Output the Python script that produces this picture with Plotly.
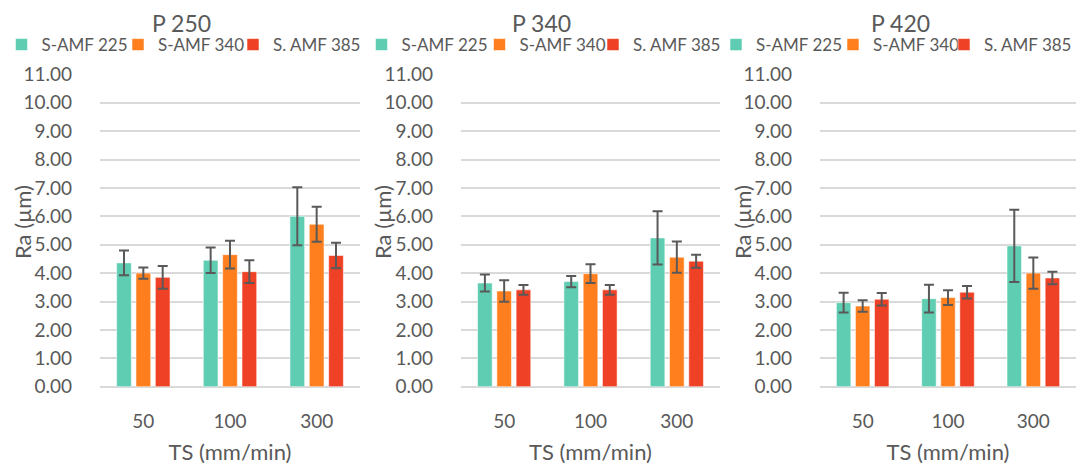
import plotly.graph_objects as go

W, H = 1077, 465

categories = ["50", "100", "300"]
series_names = ["S-AMF 225", "S-AMF 340", "S. AMF 385"]
panel_titles = ["P 250", "P 340", "P 420"]

# P 250
p250_225 = [4.36, 4.45, 6.00]
p250_225_err = [0.44, 0.45, 1.02]
p250_340 = [4.00, 4.65, 5.72]
p250_340_err = [0.20, 0.49, 0.62]
p250_385 = [3.85, 4.05, 4.62]
p250_385_err = [0.40, 0.40, 0.45]

# P 340
p340_225 = [3.65, 3.70, 5.24]
p340_225_err = [0.30, 0.20, 0.94]
p340_340 = [3.37, 3.98, 4.56]
p340_340_err = [0.38, 0.33, 0.55]
p340_385 = [3.41, 3.41, 4.42]
p340_385_err = [0.17, 0.17, 0.23]

# P 420
p420_225 = [2.96, 3.10, 4.96]
p420_225_err = [0.35, 0.49, 1.27]
p420_340 = [2.84, 3.14, 4.00]
p420_340_err = [0.20, 0.26, 0.55]
p420_385 = [3.08, 3.33, 3.83]
p420_385_err = [0.22, 0.22, 0.22]

panels = [
    [(p250_225, p250_225_err), (p250_340, p250_340_err), (p250_385, p250_385_err)],
    [(p340_225, p340_225_err), (p340_340, p340_340_err), (p340_385, p340_385_err)],
    [(p420_225, p420_225_err), (p420_340, p420_340_err), (p420_385, p420_385_err)],
]

colors = ["#5ECDB1", "#FF7F1F", "#EF4125"]
text_color = "#595959"
grid_color = "#D9D9D9"
FONT = "Lato"

x_domains = [(100, 360), (461, 720), (820, 1076)]
title_centers = [181, 541, 900]
# legend square centres (px) per panel
legend_sq = [[21.5, 138, 253], [381.5, 499.5, 613], [736, 853, 972.5]]
y_top_px, y_bot_px = 74.3, 386.7

fig = go.Figure()

k = 0
for p, panel in enumerate(panels):
    xa = "x" if p == 0 else f"x{p+1}"
    ya = "y" if p == 0 else f"y{p+1}"
    for s, (vals, errs) in enumerate(panel):
        k += 1
        lg = "legend" if k == 1 else f"legend{k}"
        fig.add_trace(go.Bar(
            x=categories, y=vals, name=series_names[s],
            xaxis=xa, yaxis=ya, legend=lg,
            marker=dict(color=colors[s], line=dict(color="rgba(255,255,255,0.55)", width=1)),
            error_y=dict(type="data", array=errs, visible=True,
                         color=text_color, thickness=2, width=5),
        ))

layout = dict(
    width=W, height=H,
    margin=dict(l=0, r=0, t=0, b=0, autoexpand=False),
    paper_bgcolor="white", plot_bgcolor="white",
    barmode="group", bargap=0.33, bargroupgap=0.24,
    font=dict(family=FONT, color=text_color, size=18),
    showlegend=True,
    annotations=[],
)

ydom = [1 - y_bot_px / H, 1 - y_top_px / H]
k = 0
for p in range(3):
    sx = "" if p == 0 else str(p + 1)
    x0, x1 = x_domains[p]
    layout[f"xaxis{sx}"] = dict(
        domain=[x0 / W, x1 / W], anchor=f"y{sx}",
        type="category", showgrid=False, showline=False, ticks="",
        tickfont=dict(size=19, color=text_color, family=FONT),
        ticklabelstandoff=21,
        title=dict(text="TS (mm/min)", font=dict(size=22, color=text_color, family=FONT), standoff=16),
    )
    layout[f"yaxis{sx}"] = dict(
        domain=ydom, anchor=f"x{sx}", range=[0, 11], dtick=1, tick0=0,
        tickformat=".2f", showgrid=True, gridcolor=grid_color, gridwidth=1.5,
        zeroline=True, zerolinecolor=grid_color, zerolinewidth=1.5,
        showline=False, ticks="",
        tickfont=dict(size=19, color=text_color, family=FONT),
        ticklabelstandoff=27,
    )
    for s in range(3):
        k += 1
        lname = "legend" if k == 1 else f"legend{k}"
        if k == 9:
            lx, lanchor = 1.0, "right"
        else:
            lx, lanchor = max(0.0, (legend_sq[p][s] - 20) / W), "left"
        layout[lname] = dict(
            orientation="h", x=lx, xanchor=lanchor,
            y=1 - 45 / H, yanchor="middle",
            font=dict(size=17, color=text_color, family=FONT),
            bgcolor="rgba(0,0,0,0)", itemwidth=30, visible=True,
        )
    layout["annotations"].append(dict(
        text=panel_titles[p], x=title_centers[p] / W, y=1 - 23 / H,
        xref="paper", yref="paper", xanchor="center", yanchor="middle",
        showarrow=False, font=dict(size=23, color=text_color, family=FONT),
    ))
    layout["annotations"].append(dict(
        text="Ra (µm)", textangle=-90, x=(22 + 360 * p) / W, y=1 - 222 / H,
        xref="paper", yref="paper", xanchor="center", yanchor="middle",
        showarrow=False, font=dict(size=22, color=text_color, family=FONT),
    ))

fig.update_layout(**layout)
fig.write_html("out.html")
